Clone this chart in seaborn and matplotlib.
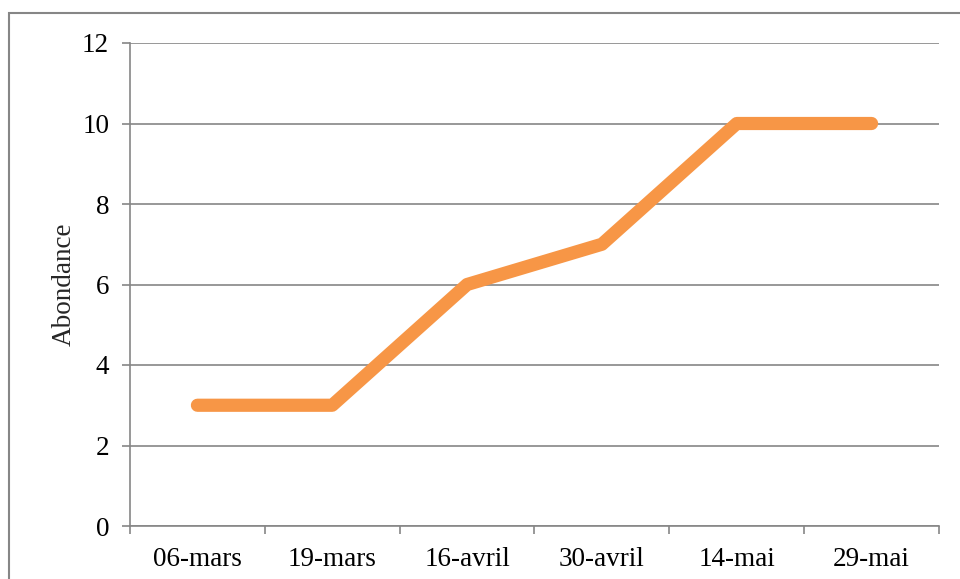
import pandas as pd
import seaborn as sns
import matplotlib.pyplot as plt
from matplotlib.patches import Rectangle

dates = ["06-mars", "19-mars", "16-avril", "30-avril", "14-mai", "29-mai"]
abondance = [3, 3, 6, 7, 10, 10]

df = pd.DataFrame({"date": dates, "abondance": abondance})

sns.set_style("white")
plt.rcParams['font.family'] = ['Liberation Serif', 'DejaVu Serif']

grey = "#868686"
fig = plt.figure(figsize=(9.6, 5.79), dpi=100)
ax = fig.add_axes([130/960, 53/579, 809/960, 483/579])

sns.lineplot(data=df, x="date", y="abondance", sort=False, color="#F79646",
             linewidth=9.5, ax=ax)
for ln in ax.lines:
    ln.set_solid_capstyle("round")
    ln.set_solid_joinstyle("round")

ax.set_xlim(-0.5, 5.5)
ax.set_ylim(0, 12)
ax.set_yticks(range(0, 13, 2))
ax.set_xticks(range(len(dates)))
ax.set_xticklabels(dates)
ax.set_xticks([i - 0.5 for i in range(len(dates) + 1)], minor=True)

ax.grid(axis="y", color=grey, linewidth=1.2)
ax.set_axisbelow(True)
for s in ["top", "right"]:
    ax.spines[s].set_visible(False)
for s in ["left", "bottom"]:
    ax.spines[s].set_color(grey)
    ax.spines[s].set_linewidth(1.2)

ax.tick_params(axis="y", which="major", left=True, length=6, width=1.2, color=grey,
               pad=9, labelsize=19.5, labelcolor="black")
ax.tick_params(axis="x", which="major", bottom=False, length=0, pad=15,
               labelsize=19.5, labelcolor="black")
ax.tick_params(axis="x", which="minor", bottom=True, length=6, width=1.2, color=grey)

ax.set_xlabel("")
ax.set_ylabel("Abondance", fontsize=19.5, labelpad=4)

fig.patches.append(Rectangle((9/960, -0.1), 1.2, (579 - 13)/579 + 0.1,
                             transform=fig.transFigure, fill=False,
                             edgecolor=grey, linewidth=1.5))

fig.savefig("out.png", dpi=100)
